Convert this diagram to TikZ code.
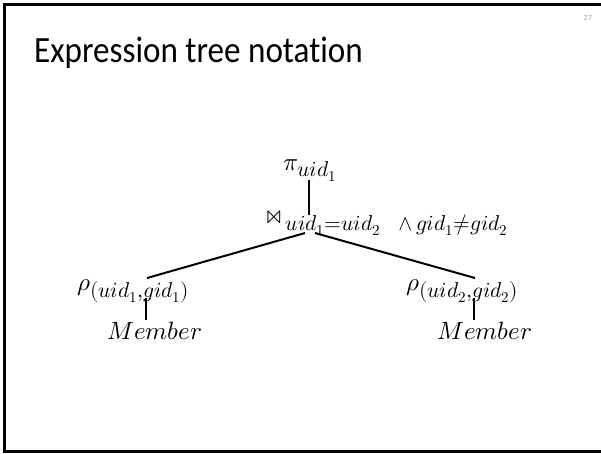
\documentclass[tikz,border=0pt]{standalone}
\usepackage{fontspec}
\usepackage{unicode-math}
\setmainfont{Carlito}[Ligatures=NoCommon]
\newcommand\subtxt[1]{\hbox{\fontsize{21.5}{24}\selectfont$#1$}}
\usetikzlibrary{calc}
\begin{document}
\begin{tikzpicture}[x=1pt,y=-1pt,
  edge/.style={line width=2pt},
  mathlbl/.style={anchor=base west,inner sep=0pt,font=\fontsize{25}{28}\selectfont},
  frame/.style={line width=3pt}]
\useasboundingbox (0,0) rectangle (601,453);
% slide frame
\draw[frame] (4.5,453) -- (4.5,4) -- (601,4);
\draw[frame] (3,451.5) -- (601,451.5);
% title and page number
\node[anchor=base west,inner sep=0pt,font=\fontsize{37}{42}\selectfont] (title) at (34,62) {\scalebox{0.895}[1]{Expression tree notation}};
\node[anchor=base east,inner sep=0pt,text=black!35,font=\fontsize{8}{9}\selectfont] (pnum) at (592,20) {27};
% tree nodes
\node[mathlbl] (pi) at (283,170) {$\pi_{\subtxt{uid_1}}$};
\node[mathlbl] (join) at (266,223) {$\bowtie_{\subtxt{\kern4pt uid_1{=}uid_2\;\;\;{\wedge}\,gid_1{\neq}gid_2}}$};
\node[mathlbl] (rhoL) at (77,290) {$\rho_{\subtxt{(uid_1{,}gid_1)}}$};
\node[mathlbl] (rhoR) at (406,290) {$\rho_{\subtxt{(uid_2{,}gid_2)}}$};
\node[mathlbl] (memL) at (107,339) {$Member$};
\node[mathlbl] (memR) at (437,339) {$Member$};
% connector end points
\coordinate (piB) at ($(pi.base west)+(26,10)$);
\coordinate (joinT) at ($(join.base west)+(43,-8)$);
\coordinate (joinBL) at ($(join.base west)+(39,10)$);
\coordinate (joinBR) at ($(join.base west)+(49,10)$);
\coordinate (rhoLT) at ($(rhoL.base west)+(70,-12)$);
\coordinate (rhoLB) at ($(rhoL.base west)+(69,8)$);
\coordinate (rhoRT) at ($(rhoR.base west)+(69,-12)$);
\coordinate (rhoRB) at ($(rhoR.base west)+(68,8)$);
\coordinate (memLT) at ($(memL.base west)+(39,-19)$);
\coordinate (memRT) at ($(memR.base west)+(37,-19)$);
\draw[edge] (piB) -- (joinT);
\draw[edge] (joinBL) -- (rhoLT);
\draw[edge] (joinBR) -- (rhoRT);
\draw[edge] (rhoLB) -- (memLT);
\draw[edge] (rhoRB) -- (memRT);
\end{tikzpicture}
\end{document}
